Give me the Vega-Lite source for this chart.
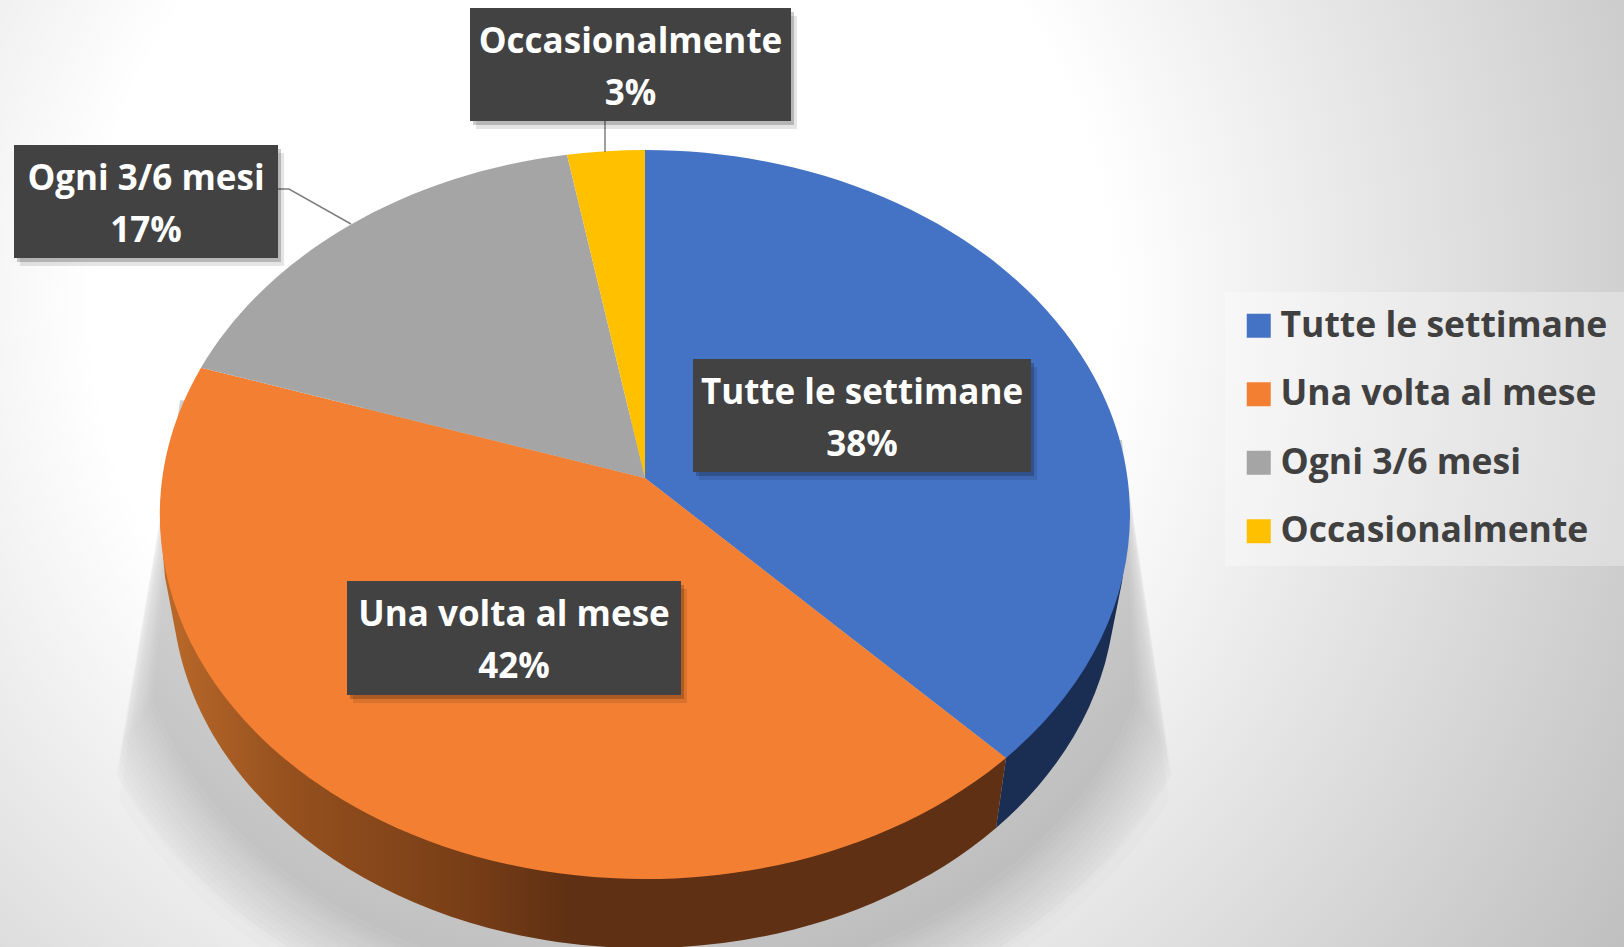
{"$schema":"https://vega.github.io/schema/vega-lite/v6.json","width":1624,"height":947,"padding":0,"autosize":{"type":"none"},"background":"#ffffff","config":{"view":{"stroke":null},"point":{"opacity":1,"size":4,"filled":true,"strokeWidth":0},"font":"Open Sans"},"data":{"values":[{"categoria":"Tutte le settimane","valore":38,"etichetta":"Tutte le settimane\n38%"},{"categoria":"Una volta al mese","valore":42,"etichetta":"Una volta al mese\n42%"},{"categoria":"Ogni 3/6 mesi","valore":17,"etichetta":"Ogni 3/6 mesi\n17%"},{"categoria":"Occasionalmente","valore":3,"etichetta":"Occasionalmente\n3%"}]},"resolve":{"scale":{"shape":"independent","color":"independent"}},"layer":[{"mark":{"type":"rect","fill":{"gradient":"radial","x1":0.37,"y1":0.393,"r1":0,"x2":0.37,"y2":0.393,"r2":0.746,"stops":[{"offset":0,"color":"#ffffff"},{"offset":0.42,"color":"#ffffff"},{"offset":1,"color":"#bfbfbf"}]}},"transform":[{"filter":"datum.valore === 42"}],"encoding":{}},{"data":{"values":[{"anello":"a"},{"anello":"b"},{"anello":"c"},{"anello":"d"},{"anello":"e"},{"anello":"f"},{"anello":"g"},{"anello":"h"},{"anello":"i"},{"anello":"j"},{"anello":"k"},{"anello":"l"},{"anello":"m"},{"anello":"n"},{"anello":"o"},{"anello":"p"}]},"mark":{"type":"point","fill":"#000000","opacity":0.0123},"encoding":{"x":{"value":0},"y":{"value":0},"shape":{"field":"anello","type":"nominal","legend":null,"scale":{"domain":["a","b","c","d","e","f","g","h","i","j","k","l","m","n","o","p"],"range":["M180,400 L119,800 A587,475 0 0 0 1169,800 L1122,440 Z","M180,400 L117,775 A582,470 0 0 0 1171,775 L1122,440 Z","M180,400 L116,775 A577,465 0 0 0 1172,775 L1122,440 Z","M180,400 L119,770 A572,460 0 0 0 1169,770 L1122,440 Z","M180,400 L119.5,760 A567,455 0 0 0 1168.5,760 L1122,440 Z","M180,400 L120,750 A562,450 0 0 0 1168,750 L1122,440 Z","M180,400 L123,745 A557,445 0 0 0 1165,745 L1122,440 Z","M180,400 L126,740 A552,440 0 0 0 1162,740 L1122,440 Z","M180,400 L130,735 A547,435 0 0 0 1158,735 L1122,440 Z","M180,400 L133,730 A542,430 0 0 0 1155,730 L1122,440 Z","M180,400 L136,725 A537,425 0 0 0 1152,725 L1122,440 Z","M180,400 L140,720 A532,420 0 0 0 1148,720 L1122,440 Z","M180,400 L143,715 A527,415 0 0 0 1145,715 L1122,440 Z","M180,400 L146,710 A522,410 0 0 0 1142,710 L1122,440 Z","M180,400 L149,705 A517,405 0 0 0 1139,705 L1122,440 Z","M180,400 L153,700 A512,400 0 0 0 1135,700 L1122,440 Z"]}}}},{"transform":[{"filter":"datum.valore === 38"}],"mark":{"type":"point","fill":"#1a2d52","shape":"M1006,758 L996,828 A472,360 0 0 0 1109,647 L1122,582 L1130,513 Z"},"encoding":{"x":{"value":0},"y":{"value":0}}},{"transform":[{"filter":"datum.valore === 42"}],"mark":{"type":"point","shape":"M1006,758 L996,828 A472,360 0 0 1 177,640 L165,577 L160,520 L645,500 Z","fill":{"gradient":"linear","x1":0,"y1":0,"x2":1,"y2":0,"stops":[{"offset":0,"color":"#bb6a2a"},{"offset":0.155,"color":"#95501e"},{"offset":0.35,"color":"#7a3f17"},{"offset":0.487,"color":"#5f3013"},{"offset":1,"color":"#5f3013"}]}},"encoding":{"x":{"value":0},"y":{"value":0}}},{"mark":{"type":"point","size":0},"encoding":{"x":{"value":645},"y":{"value":478},"color":{"field":"categoria","type":"nominal","scale":{"domain":["Tutte le settimane","Una volta al mese","Ogni 3/6 mesi","Occasionalmente"],"range":["#4472c4","#f27f32","#a5a5a5","#ffc000"]},"legend":{"title":null,"orient":"none","legendX":1225,"legendY":292,"padding":16,"fillColor":"rgba(255,255,255,0.3)","symbolType":"square","symbolSize":576,"symbolStrokeWidth":0,"symbolOpacity":1,"labelFont":"Open Sans","labelFontSize":35.5,"labelFontWeight":700,"labelColor":"#404040","labelOffset":4,"rowPadding":31.5,"labelLimit":400}}}},{"mark":{"type":"point"},"encoding":{"x":{"value":645},"y":{"value":478},"shape":{"field":"categoria","type":"nominal","legend":null,"scale":{"domain":["Tutte le settimane","Una volta al mese","Ogni 3/6 mesi","Occasionalmente"],"range":["M0,0 L0,-328 A485,364.5 0 0 1 361,279.9 Z","M0,0 L361,279.9 A485,364.5 0 0 1 -444,-110.3 Z","M0,0 L-444,-110.3 A485,364.5 0 0 1 -78,-323.3 Z","M0,0 L-78,-323.3 A485,364.5 0 0 1 0,-328 Z"]}},"color":{"field":"categoria","type":"nominal","legend":null,"scale":{"domain":["Tutte le settimane","Una volta al mese","Ogni 3/6 mesi","Occasionalmente"],"range":["#4472c4","#f27f32","#a5a5a5","#ffc000"]}}}},{"transform":[{"filter":"datum.valore <= 17"}],"mark":{"type":"point","filled":false,"stroke":"#7f7f7f","strokeWidth":1.5},"encoding":{"x":{"value":0},"y":{"value":0},"shape":{"field":"categoria","type":"nominal","legend":null,"scale":{"domain":["Ogni 3/6 mesi","Occasionalmente"],"range":["M278,189 L289,189 L351,224","M605,121 L605,152"]}}}},{"mark":{"type":"point","fill":"#000000","opacity":0.1,"xOffset":6,"yOffset":8},"encoding":{"x":{"field":"valore","type":"quantitative","axis":null,"scale":{"domain":[3,17,38,42],"range":[630.5,146,862,514],"nice":false,"zero":false}},"y":{"field":"valore","type":"quantitative","axis":null,"scale":{"domain":[3,17,38,42],"range":[64.5,201.5,415.5,638],"nice":false,"zero":false}},"shape":{"field":"categoria","type":"nominal","legend":null,"scale":{"domain":["Tutte le settimane","Una volta al mese","Ogni 3/6 mesi","Occasionalmente"],"range":["M-169,-56.5 L169,-56.5 L169,56.5 L-169,56.5 Z","M-167,-57 L167,-57 L167,57 L-167,57 Z","M-132,-56.5 L132,-56.5 L132,56.5 L-132,56.5 Z","M-160.5,-56.5 L160.5,-56.5 L160.5,56.5 L-160.5,56.5 Z"]}}}},{"mark":{"type":"point","fill":"#000000","opacity":0.2,"xOffset":3,"yOffset":4},"encoding":{"x":{"field":"valore","type":"quantitative","axis":null,"scale":{"domain":[3,17,38,42],"range":[630.5,146,862,514],"nice":false,"zero":false}},"y":{"field":"valore","type":"quantitative","axis":null,"scale":{"domain":[3,17,38,42],"range":[64.5,201.5,415.5,638],"nice":false,"zero":false}},"shape":{"field":"categoria","type":"nominal","legend":null,"scale":{"domain":["Tutte le settimane","Una volta al mese","Ogni 3/6 mesi","Occasionalmente"],"range":["M-169,-56.5 L169,-56.5 L169,56.5 L-169,56.5 Z","M-167,-57 L167,-57 L167,57 L-167,57 Z","M-132,-56.5 L132,-56.5 L132,56.5 L-132,56.5 Z","M-160.5,-56.5 L160.5,-56.5 L160.5,56.5 L-160.5,56.5 Z"]}}}},{"mark":{"type":"point","fill":"#424242"},"encoding":{"x":{"field":"valore","type":"quantitative","axis":null,"scale":{"domain":[3,17,38,42],"range":[630.5,146,862,514],"nice":false,"zero":false}},"y":{"field":"valore","type":"quantitative","axis":null,"scale":{"domain":[3,17,38,42],"range":[64.5,201.5,415.5,638],"nice":false,"zero":false}},"shape":{"field":"categoria","type":"nominal","legend":null,"scale":{"domain":["Tutte le settimane","Una volta al mese","Ogni 3/6 mesi","Occasionalmente"],"range":["M-169,-56.5 L169,-56.5 L169,56.5 L-169,56.5 Z","M-167,-57 L167,-57 L167,57 L-167,57 Z","M-132,-56.5 L132,-56.5 L132,56.5 L-132,56.5 Z","M-160.5,-56.5 L160.5,-56.5 L160.5,56.5 L-160.5,56.5 Z"]}}}},{"mark":{"type":"text","font":"Open Sans","fontSize":35,"fontWeight":700,"color":"#ffffff","align":"center","baseline":"middle","lineBreak":"\n","lineHeight":52,"dy":-23},"encoding":{"x":{"field":"valore","type":"quantitative","axis":null,"scale":{"domain":[3,17,38,42],"range":[630.5,146,862,514],"nice":false,"zero":false}},"y":{"field":"valore","type":"quantitative","axis":null,"scale":{"domain":[3,17,38,42],"range":[64.5,201.5,415.5,638],"nice":false,"zero":false}},"text":{"field":"etichetta","type":"nominal"}}}]}
